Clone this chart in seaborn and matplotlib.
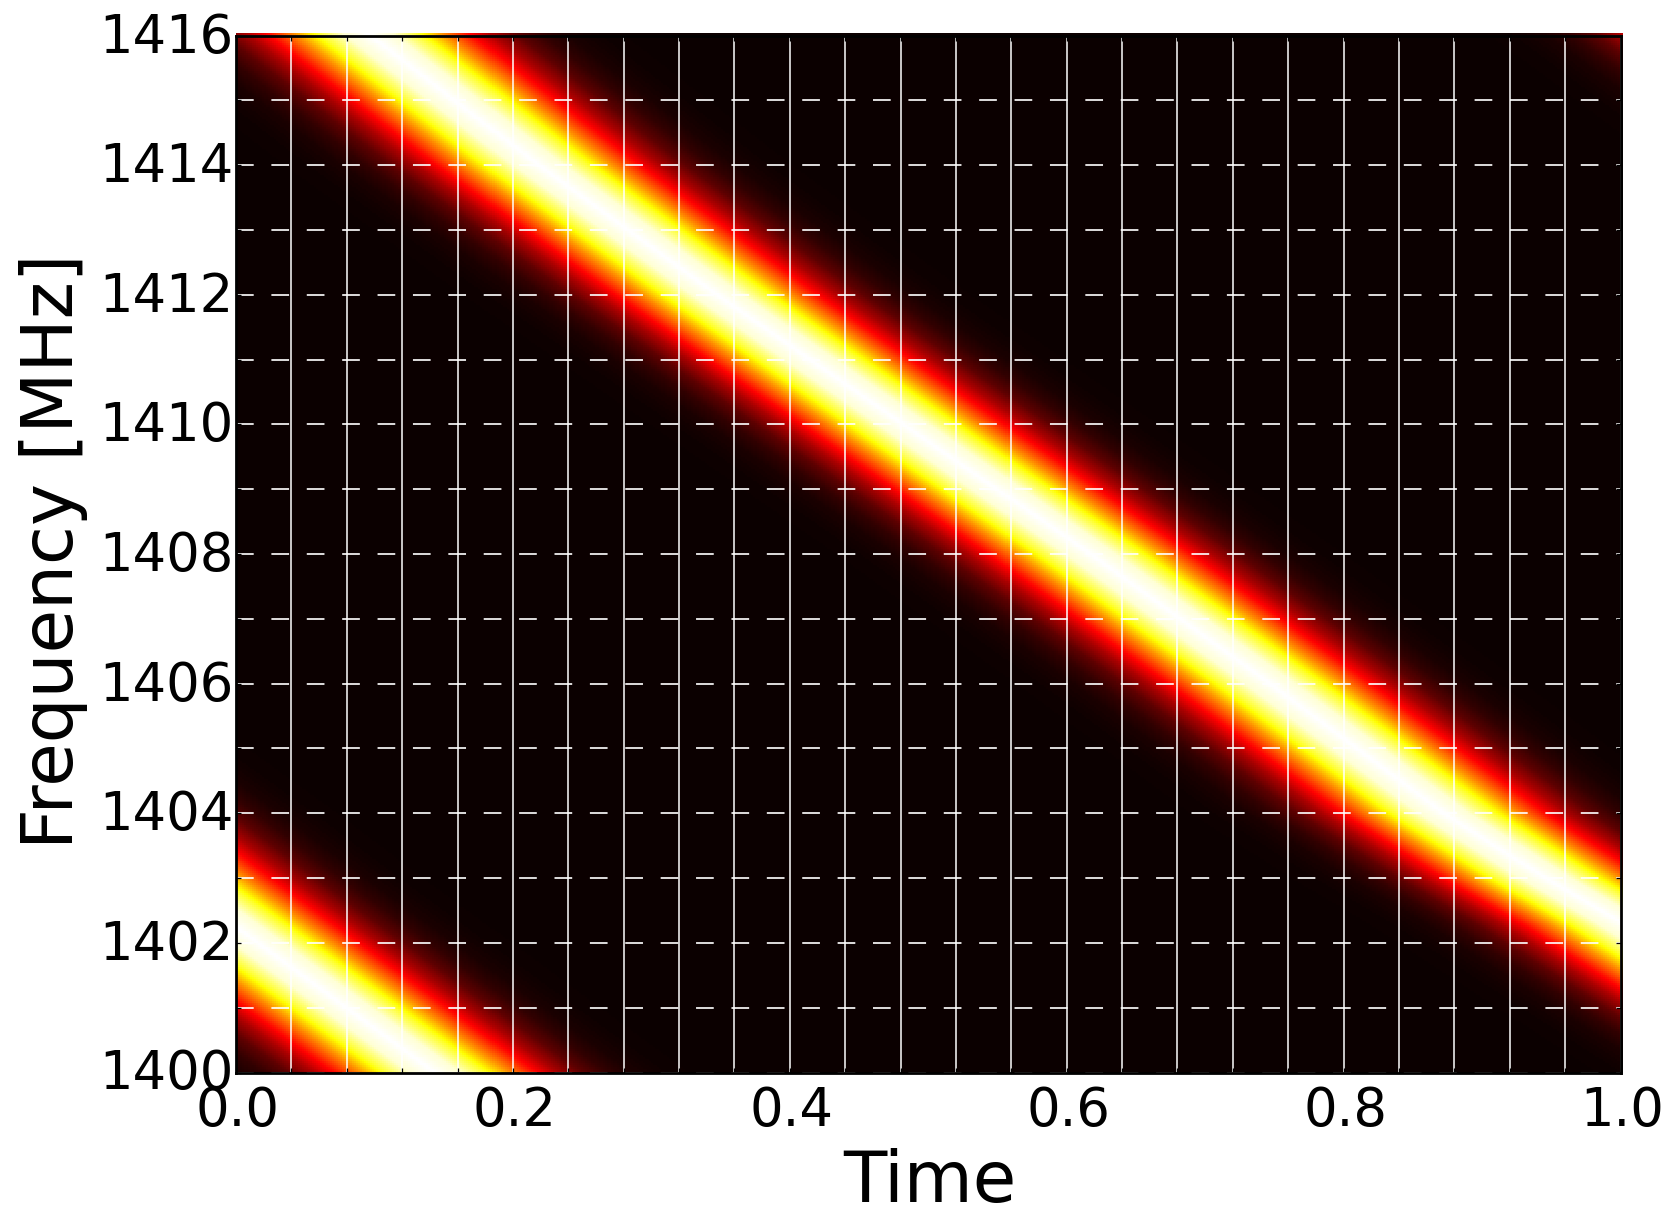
import numpy as np
import pandas as pd
import matplotlib
matplotlib.use("Agg")
import matplotlib.pyplot as plt
from matplotlib.transforms import Affine2D, ScaledTranslation
from matplotlib.ticker import MultipleLocator
import seaborn as sns

# Values: where the bright ridge sits (frequency, time) for each
# of the three visible passes of the band, and the brightness across the ridge.
main_freq = [1420.0, 1416.0, 1414.0, 1412.0, 1410.0, 1408.0, 1406.0, 1404.0, 1403.0, 1402.3, 1400.0]
main_time = [-0.150, 0.095, 0.216, 0.345, 0.480, 0.615, 0.745, 0.871, 0.944, 1.000, 1.165]
wrap_low_freq = [1406.0, 1404.0, 1403.0, 1402.0, 1401.0, 1400.0]
wrap_low_time = [-0.240, -0.110, -0.048, 0.016, 0.080, 0.144]
wrap_high_freq = [1420.0, 1416.0, 1414.0]
wrap_high_time = [0.830, 1.085, 1.210]
ridge_offset = [0.000, 0.018, 0.036, 0.053, 0.071, 0.088, 0.106, 0.124, 0.142, 0.165, 0.200, 0.300]
ridge_level = [1.000, 0.955, 0.790, 0.585, 0.390, 0.240, 0.125, 0.060, 0.025, 0.008, 0.000, 0.000]

x_label = "Time"
y_label = "Frequency [MHz]"
y_major = [1400, 1402, 1404, 1406, 1408, 1410, 1412, 1414, 1416]
x_major = [0.0, 0.2, 0.4, 0.6, 0.8, 1.0]

W, H = 1677, 1207
L, R, T, B = 236.0, 1620.5, 35.5, 1072.5

sns.set_style("white")
plt.rcParams["font.family"] = ["DejaVu Sans"]

fig = plt.figure(figsize=(W / 100, H / 100), dpi=100, facecolor="white")
ax = fig.add_axes([L / W, 1 - B / H, (R - L) / W, (B - T) / H])

n_t, n_f = 692, 520
t_centres = (np.arange(n_t) + 0.5) / n_t
f_centres = 1400 + 16 * (np.arange(n_f) + 0.5) / n_f

cells = np.zeros((n_f, n_t))
for fs, ts in ((main_freq, main_time), (wrap_low_freq, wrap_low_time), (wrap_high_freq, wrap_high_time)):
    order = np.argsort(fs)
    ridge = np.interp(f_centres, np.array(fs)[order], np.array(ts)[order], left=-9, right=-9)
    dist = np.abs(t_centres[None, :] - ridge[:, None])
    cells = np.maximum(cells, np.interp(dist, ridge_offset, ridge_level))

frame = pd.DataFrame(cells, index=f_centres, columns=t_centres)
sns.heatmap(frame, cmap="hot", vmin=0, vmax=1, cbar=False, ax=ax,
            xticklabels=False, yticklabels=False)

# the image slightly overshoots the frame on the top and right, as in the reference
mesh = ax.collections[0]
over_x = 1 + 2.2 / (R - L)
over_y = 16 * (1 + 2.5 / (B - T))
mesh.set_transform(Affine2D().scale(over_x / n_t, over_y / n_f).translate(0, 1400) + ax.transData)
mesh.set_clip_on(False)

ax.set_xlim(0, 1)
ax.set_ylim(1400, 1416)
ax.set_xticks(x_major)
ax.set_yticks(y_major)
ax.set_xticklabels([f"{v:.1f}" for v in x_major])
ax.set_yticklabels([str(v) for v in y_major])
ax.xaxis.set_minor_locator(MultipleLocator(0.04))
ax.yaxis.set_minor_locator(MultipleLocator(1))

ax.tick_params(which="both", direction="in", top=True, right=True, bottom=True, left=True,
               length=3.6, width=0.9, color="black")
ax.tick_params(axis="x", which="major", labelsize=38, pad=9, labelcolor="black")
ax.tick_params(axis="y", which="major", labelsize=38, pad=2, labelcolor="black")
shift_up = ScaledTranslation(0, 3.5 / 100, fig.dpi_scale_trans)
for lab in ax.get_yticklabels():
    lab.set_transform(lab.get_transform() + shift_up)
shift_right = ScaledTranslation(2 / 100, 0, fig.dpi_scale_trans)
for lab in ax.get_xticklabels():
    lab.set_transform(lab.get_transform() + shift_right)

ax.set_axisbelow(False)
lw = 1.1
ax.grid(True, axis="x", which="both", color="white", linewidth=lw, linestyle="-")
ax.grid(True, axis="y", which="both", color="white", linewidth=lw * 1.1,
        linestyle=(0, (12.74 / (lw * 1.1), 12.74 / (lw * 1.1))))

for s in ax.spines.values():
    s.set_visible(True)
    s.set_color("black")
    s.set_linewidth(2.0)
    s.set_zorder(5)

ax.set_xlabel(x_label, fontsize=51, labelpad=8, color="black")
ax.set_ylabel(y_label, fontsize=51, labelpad=8, color="black")
ax.xaxis.label.set_x(0.5015)
ax.yaxis.label.set_y(0.503)

fig.savefig("out.png", dpi=100, facecolor="white")
